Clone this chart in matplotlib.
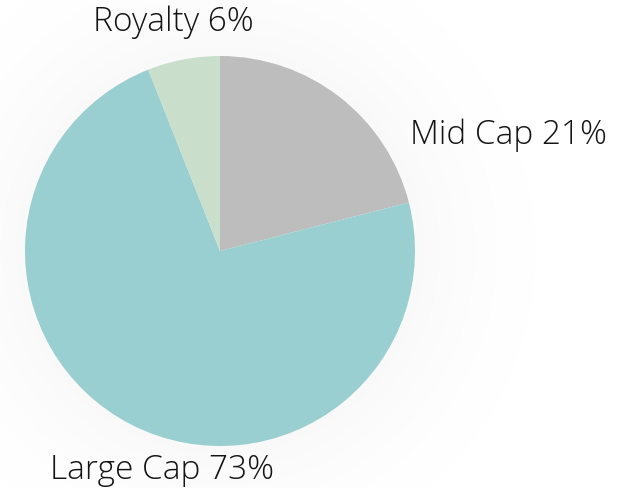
import numpy as np
import matplotlib.pyplot as plt

labels = ['Mid Cap', 'Large Cap', 'Royalty']
shares = [21, 73, 6]
colors = ['#BDBDBD', '#99CFD0', '#C9DFCC']

W, H = 644, 489
fig = plt.figure(figsize=(W / 100, H / 100), dpi=100)
ax = fig.add_axes([0, 0, 1, 1])

cx, cy, r = 220, H - 252, 195

# faint glow around the pie
yy, xx = np.mgrid[0:H, 0:W]
d = np.hypot(xx - cx, yy - cy)
glow = np.clip((r + 120 - d) / 120, 0, 1) ** 1.5 * 0.022
img = np.ones((H, W, 3)) * (1 - glow)[..., None]
ax.imshow(img, extent=(0, W, 0, H), origin='lower', zorder=0)

ax.pie(shares, colors=colors, startangle=90, counterclock=False,
       center=(cx, cy), radius=r, frame=True,
       wedgeprops=dict(linewidth=0))
ax.set_xlim(0, W)
ax.set_ylim(0, H)
ax.set_aspect('equal')
ax.set_axis_off()

font = dict(family='Open Sans', fontsize=24, color='#141414', fontweight='light')
ax.text(173, H - 22, f'{labels[2]} {shares[2]}%', ha='center', va='center', **font)
ax.text(410, H - 135, f'{labels[0]} {shares[0]}%', ha='left', va='center', **font)
ax.text(162, H - 470, f'{labels[1]} {shares[1]}%', ha='center', va='center', **font)

fig.savefig('out.png', dpi=100)
